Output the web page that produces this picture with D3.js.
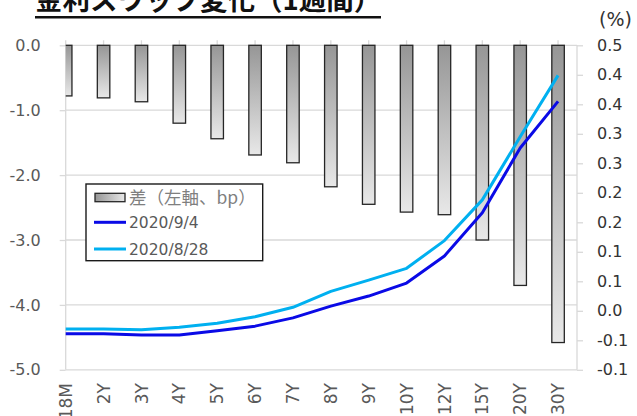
<!DOCTYPE html>
<html>
<head>
<meta charset="utf-8">
<script src="https://cdn.jsdelivr.net/npm/d3@7"></script>
<style>
  html, body { margin: 0; padding: 0; background: #fff; overflow: hidden; }
  svg { display: block; }
  text { font-family: "DejaVu Sans", Verdana, sans-serif; }
</style>
</head>
<body>
<div id="chart"></div>
<script>
'use strict';

/** Tenors on the category axis. */
const categories = ['18M', '2Y', '3Y', '4Y', '5Y', '6Y', '7Y', '8Y', '9Y', '10Y', '12Y', '15Y', '20Y', '30Y'];

/** Weekly change, bp (left axis, bars). */
const diffBp = [-0.78, -0.81, -0.87, -1.20, -1.44, -1.69, -1.81, -2.18, -2.45, -2.57, -2.61, -3.00, -3.70, -4.58];

/** Swap rates, % (right axis, lines). */
const rate0904 = [-0.039, -0.039, -0.041, -0.041, -0.034, -0.026, -0.012, 0.008, 0.025, 0.047, 0.093, 0.166, 0.276, 0.355];
const rate0828 = [-0.031, -0.031, -0.032, -0.028, -0.021, -0.010, 0.006, 0.033, 0.052, 0.072, 0.119, 0.188, 0.295, 0.399];

/** Tick values. */
const leftTicks = [0, -1, -2, -3, -4, -5];
const rightTicks = [-0.10, -0.05, 0.00, 0.05, 0.10, 0.15, 0.20, 0.25, 0.30, 0.35, 0.40, 0.45];

const seriesNames = ['差（左軸、bp）', '2020/9/4', '2020/8/28'];
const titleText = '金利スワップ変化（1週間）';

const W = 637, H = 416;
const plot = {left: 65.7, right: 577, top: 45.3, bottom: 369.8};
const step = (plot.right - plot.left) / 13.5;
const textColor = '#595959';
const gridColor = '#d9d9d9';

var svg = d3.select('#chart').append('svg')
    .attr('width', W)
    .attr('height', H);

var defs = svg.append('defs');

var grad = defs.append('linearGradient')
    .attr('id', 'barGrad')
    .attr('x1', 0).attr('y1', 0).attr('x2', 0).attr('y2', 1);
grad.append('stop').attr('offset', '0%').attr('stop-color', '#969696');
grad.append('stop').attr('offset', '100%').attr('stop-color', '#e8e8e8');

var legGrad = defs.append('linearGradient')
    .attr('id', 'legGrad')
    .attr('x1', 0).attr('y1', 0).attr('x2', 1).attr('y2', 0);
legGrad.append('stop').attr('offset', '0%').attr('stop-color', '#969696');
legGrad.append('stop').attr('offset', '100%').attr('stop-color', '#e8e8e8');

defs.append('clipPath').attr('id', 'plotClip')
  .append('rect')
    .attr('x', plot.left)
    .attr('y', plot.top - 2)
    .attr('width', plot.right - plot.left)
    .attr('height', plot.bottom - plot.top + 4);

var x = d3.scalePoint()
    .domain(categories)
    .range([plot.left, plot.left + 13 * step]);

var yL = d3.scaleLinear().domain([-5, 0]).range([plot.bottom, plot.top]);
var yR = d3.scaleLinear().domain([-0.10, 0.45]).range([plot.bottom, plot.top]);

/**
 * Excel style "0.0" number format (rounds half away from zero).
 */
function fmtRight(v) {
    var r = Math.round(Math.abs(v) * 10 + 1e-6) / 10;
    return (v < 0 && r !== 0 ? '-' : '') + r.toFixed(1);
}

// horizontal gridlines
svg.append('g')
  .selectAll('line')
    .data(leftTicks)
    .enter()
    .append('line')
    .attr('x1', plot.left).attr('x2', plot.right)
    .attr('y1', d => yL(d)).attr('y2', d => yL(d))
    .attr('stroke', gridColor)
    .attr('stroke-width', 1.3);

// plot edges
svg.append('line')
    .attr('x1', plot.left).attr('x2', plot.left)
    .attr('y1', plot.top).attr('y2', plot.bottom)
    .attr('stroke', gridColor).attr('stroke-width', 1.3);
svg.append('line')
    .attr('x1', plot.right).attr('x2', plot.right)
    .attr('y1', plot.top).attr('y2', plot.bottom)
    .attr('stroke', gridColor).attr('stroke-width', 1.3);

// left axis
var leftAxis = svg.append('g')
    .attr('transform', 'translate(' + plot.left + ',0)')
    .call(d3.axisLeft(yL).tickValues(leftTicks).tickSize(6).tickPadding(19).tickFormat(d => d.toFixed(1)));
leftAxis.select('.domain').remove();
leftAxis.selectAll('line').attr('stroke', gridColor).attr('stroke-width', 1.3);
leftAxis.selectAll('text')
    .attr('fill', textColor)
    .style('font-size', '16px');

// right axis
var rightAxis = svg.append('g')
    .attr('transform', 'translate(' + plot.right + ',0)')
    .call(d3.axisRight(yR).tickValues(rightTicks).tickSize(6).tickPadding(14).tickFormat(fmtRight));
rightAxis.select('.domain').remove();
rightAxis.selectAll('line').attr('stroke', gridColor).attr('stroke-width', 1.3);
rightAxis.selectAll('text')
    .attr('fill', '#333')
    .style('font-size', '16px');

svg.append('text')
    .attr('x', 599)
    .attr('y', 26)
    .attr('fill', '#333')
    .style('font-size', '19px')
    .text('(%)');

// category tick marks crossing the zero line
svg.append('g')
  .selectAll('line')
    .data(categories)
    .enter()
    .append('line')
    .attr('x1', d => x(d)).attr('x2', d => x(d))
    .attr('y1', plot.top - 5).attr('y2', plot.top + 5)
    .attr('stroke', gridColor)
    .attr('stroke-width', 1.3);

// category labels, rotated
svg.append('g')
  .selectAll('text')
    .data(categories)
    .enter()
    .append('text')
    .attr('transform', d => 'translate(' + x(d) + ',383) rotate(-90)')
    .attr('text-anchor', 'end')
    .attr('dy', '0.36em')
    .attr('fill', textColor)
    .style('font-size', '17px')
    .text(d => d);

// bars
var barW = 12.5;
svg.append('g')
    .attr('clip-path', 'url(#plotClip)')
  .selectAll('rect')
    .data(categories)
    .enter()
    .append('rect')
    .attr('x', d => x(d) - barW / 2)
    .attr('y', yL(0))
    .attr('width', barW)
    .attr('height', (d, i) => yL(diffBp[i]) - yL(0))
    .attr('fill', 'url(#barGrad)')
    .attr('stroke', '#262626')
    .attr('stroke-width', 1.3);

// lines
var line = d3.line()
    .x((d, i) => x(categories[i]))
    .y(d => yR(d));

svg.append('path')
    .datum(rate0828)
    .attr('d', line)
    .attr('fill', 'none')
    .attr('stroke', '#00b0f0')
    .attr('stroke-width', 3)
    .attr('stroke-linejoin', 'round');

svg.append('path')
    .datum(rate0904)
    .attr('d', line)
    .attr('fill', 'none')
    .attr('stroke', '#0a0ae6')
    .attr('stroke-width', 3)
    .attr('stroke-linejoin', 'round');

// legend
var legend = svg.append('g');
legend.append('rect')
    .attr('x', 86).attr('y', 184)
    .attr('width', 176.7).attr('height', 76.7)
    .attr('fill', '#fff')
    .attr('stroke', '#1a1a1a')
    .attr('stroke-width', 1.4);
legend.append('rect')
    .attr('x', 95).attr('y', 193.3)
    .attr('width', 30).attr('height', 8.4)
    .attr('fill', 'url(#legGrad)')
    .attr('stroke', '#262626')
    .attr('stroke-width', 1.3);
legend.append('line')
    .attr('x1', 94).attr('x2', 126)
    .attr('y1', 222.3).attr('y2', 222.3)
    .attr('stroke', '#0a0ae6').attr('stroke-width', 3);
legend.append('line')
    .attr('x1', 94).attr('x2', 126)
    .attr('y1', 249).attr('y2', 249)
    .attr('stroke', '#00b0f0').attr('stroke-width', 3);
legend.selectAll('text.lbl')
    .data(seriesNames)
    .enter()
    .append('text')
    .attr('class', 'lbl')
    .attr('x', 129)
    .attr('y', (d, i) => [197.5, 222.3, 249][i])
    .attr('dy', '0.36em')
    .attr('fill', (d, i) => i === 0 ? '#7f7f7f' : textColor)
    .style('font-size', (d, i) => i === 0 ? '17.5px' : '15.5px')
    .style('font-family', (d, i) => i === 0 ? '"Noto Sans CJK JP", "DejaVu Sans", sans-serif' : null)
    .text(d => d);

// title (cropped at the top of the picture)
var title = svg.append('text')
    .attr('x', 35)
    .attr('y', 10)
    .attr('fill', '#111')
    .style('font-family', '"Noto Sans CJK JP", sans-serif')
    .style('font-weight', 'bold')
    .style('font-size', '27.5px')
    .text(titleText);
svg.append('line')
    .attr('x1', 35).attr('x2', 381)
    .attr('y1', 17.3).attr('y2', 17.3)
    .attr('stroke', '#111')
    .attr('stroke-width', 2.5);
</script>
</body>
</html>
